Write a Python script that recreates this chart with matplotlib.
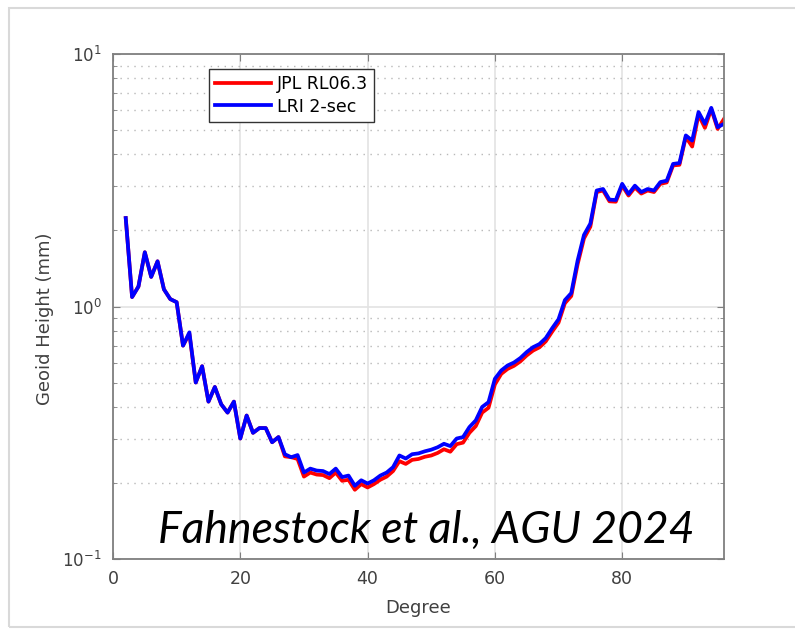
import matplotlib
matplotlib.use('Agg')
import matplotlib.pyplot as plt
from matplotlib.patches import Rectangle
from matplotlib.ticker import LogLocator, NullFormatter

# spherical-harmonic degree
degree = list(range(2, 97))

# geoid height per degree (mm), LRI 2-sec solution
lri_2sec = [
    2.24, 1.09, 1.20, 1.64, 1.31, 1.51, 1.17, 1.07, 1.04,
    0.70, 0.79, 0.50, 0.58, 0.42, 0.48, 0.41, 0.38, 0.42, 0.30,
    0.37, 0.316, 0.33, 0.33, 0.29, 0.304, 0.26, 0.253, 0.258, 0.220,
    0.228, 0.224, 0.223, 0.217, 0.228, 0.211, 0.214, 0.195, 0.205, 0.199,
    0.205, 0.214, 0.220, 0.231, 0.257, 0.250, 0.260, 0.262, 0.267, 0.271,
    0.277, 0.286, 0.280, 0.300, 0.304, 0.333, 0.354, 0.400, 0.418, 0.517,
    0.558, 0.584, 0.600, 0.625, 0.660, 0.690, 0.710, 0.750, 0.820, 0.890,
    1.06, 1.13, 1.52, 1.92, 2.13, 2.88, 2.92, 2.65, 2.64, 3.06,
    2.79, 3.01, 2.84, 2.92, 2.88, 3.11, 3.15, 3.67, 3.70, 4.76,
    4.54, 5.89, 5.29, 6.12, 5.13, 5.29,
]

# geoid height per degree (mm), JPL RL06.3
jpl_rl063 = [
    2.24, 1.09, 1.20, 1.64, 1.31, 1.51, 1.17, 1.07, 1.04,
    0.70, 0.78, 0.50, 0.58, 0.42, 0.48, 0.41, 0.38, 0.42, 0.30,
    0.37, 0.316, 0.33, 0.33, 0.29, 0.304, 0.255, 0.253, 0.249, 0.212,
    0.220, 0.216, 0.215, 0.209, 0.220, 0.204, 0.206, 0.188, 0.198, 0.192,
    0.198, 0.206, 0.212, 0.223, 0.244, 0.238, 0.247, 0.249, 0.254, 0.257,
    0.263, 0.272, 0.266, 0.285, 0.289, 0.316, 0.336, 0.380, 0.397, 0.491,
    0.541, 0.566, 0.582, 0.606, 0.640, 0.669, 0.689, 0.728, 0.795, 0.863,
    1.03, 1.10, 1.47, 1.86, 2.07, 2.84, 2.88, 2.61, 2.60, 3.01,
    2.75, 2.96, 2.80, 2.88, 2.84, 3.06, 3.10, 3.62, 3.64, 4.69,
    4.30, 5.75, 5.10, 6.05, 5.05, 5.53,
]

x_ticks = [0, 20, 40, 60, 80]

fig = plt.figure(figsize=(7.95, 6.34), dpi=100)

# light slide frame (right edge runs off the picture)
fig.patches.append(Rectangle((9 / 795, 1 - 627 / 634), 800 / 795, 619 / 634,
                             transform=fig.transFigure, fill=False,
                             edgecolor='#d9d9d9', linewidth=1.5))

ax = fig.add_axes([113 / 795, 1 - 559 / 634, 611 / 795, 505 / 634])
ax.plot(degree, jpl_rl063, color='#ff0000', lw=2.7, label='JPL RL06.3')
ax.plot(degree, lri_2sec, color='#0000ff', lw=2.7, label='LRI 2-sec')

ax.set_yscale('log')
ax.set_ylim(0.1, 10)
ax.set_xlim(0, 96)
ax.set_xticks(x_ticks)
ax.yaxis.set_major_locator(LogLocator(base=10, numticks=10))
ax.yaxis.set_minor_locator(LogLocator(base=10, subs=range(2, 10), numticks=20))
ax.yaxis.set_minor_formatter(NullFormatter())

ax.grid(True, which='major', color='#e3e3e3', lw=1.2, ls='-')
ax.grid(True, which='minor', axis='y', color='#b8b8b8', lw=1.0, ls=(0, (1, 4)))
ax.set_axisbelow(True)

for s in ax.spines.values():
    s.set_color('#7f7f7f')
    s.set_linewidth(1.3)
ax.tick_params(which='both', direction='in', top=True, right=True,
               colors='#7f7f7f', labelcolor='#404040')
ax.tick_params(which='major', length=5)
ax.tick_params(which='minor', length=3)
ax.tick_params(axis='x', labelsize=12.5, pad=8)
ax.tick_params(axis='y', labelsize=12, pad=8)

ax.set_xlabel('Degree', fontsize=13, color='#404040')
ax.set_ylabel('Geoid Height (mm)', fontsize=13, color='#404040')
ax.xaxis.set_label_coords(0.5, -0.079)
ax.yaxis.set_label_coords(-0.097, 0.476)

leg = ax.legend(loc='upper left', bbox_to_anchor=(0.157, 0.970), fontsize=12.5,
                borderaxespad=0, fancybox=False, framealpha=1,
                edgecolor='#333333', handlelength=3.2, borderpad=0.35,
                labelspacing=0.25, handletextpad=0.35)
leg.get_frame().set_linewidth(1.0)

fig.text(158 / 795, 1 - 543 / 634, 'Fahnestock et al., AGU 2024',
         fontsize=32, style='italic', family=['Lato', 'DejaVu Sans'],
         color='black', va='baseline', ha='left')

fig.savefig('out.png', dpi=100)
